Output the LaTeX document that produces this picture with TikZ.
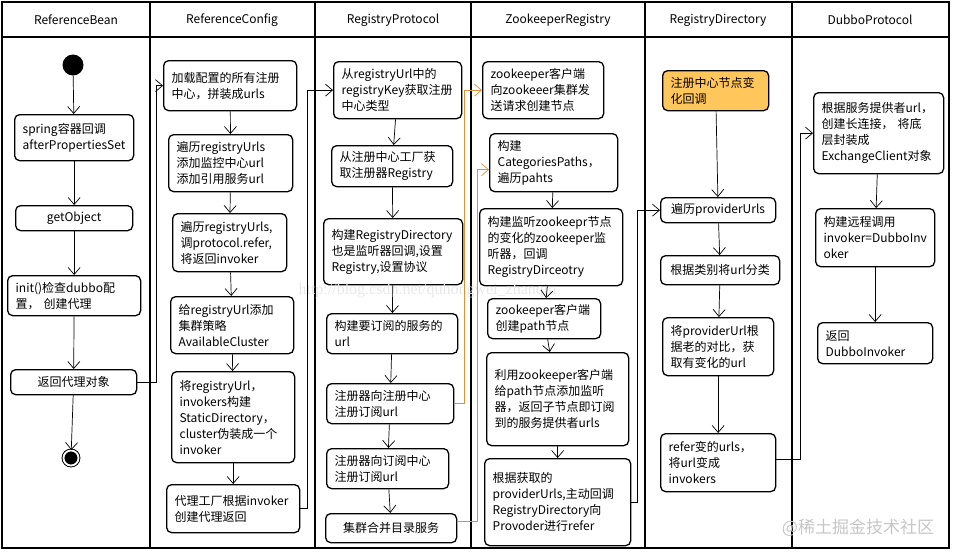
\documentclass[tikz,border=0pt]{standalone}
\usepackage{fontspec}
\setmainfont{Noto Sans CJK SC}
\newfontfamily\wmfont{Liberation Serif}
\usetikzlibrary{arrows.meta}

\definecolor{orangeline}{HTML}{D89438}
\definecolor{cbfill}{HTML}{FFC65C}

\begin{document}
\begin{tikzpicture}[
    x=1pt, y=-1pt,
    lane/.style={line width=1.6pt},
    title/.style={font=\fontsize{12}{14}\selectfont},
    act/.style={
        draw,
        rounded corners=5pt,
        line width=1.3pt,
        anchor=north west,
        inner xsep=8pt,
        inner ysep=0pt,
        align=left,
        font=\fontsize{12}{16}\selectfont
    },
    mid/.style={act, align=center},
    flow/.style={-{Straight Barb[length=7pt,width=12pt]}, line width=0.7pt},
    hot/.style={flow, draw=orangeline},
    initial/.style={circle, fill=black, minimum size=21pt, inner sep=0pt},
    final/.style={circle, fill=black, draw, double=white, double distance=1.8pt,
        line width=1pt, minimum size=15pt, inner sep=0pt}]

   \useasboundingbox (0,0) rectangle (956,555);

   % swimlanes
   \draw[lane] (2,2) rectangle (949,548);
   \draw[lane] (2,37) -- (949,37);
   \draw[lane] (150,2) -- (150,548);
   \draw[lane] (315,2) -- (315,548);
   \draw[lane] (471,2) -- (471,548);
   \draw[lane] (645,2) -- (645,548);
   \draw[lane] (792,2) -- (792,548);

   \node[title] (hbean)  at (76,20)  {ReferenceBean};
   \node[title] (hconf)  at (232,20) {ReferenceConfig};
   \node[title] (hproto) at (393,20) {RegistryProtocol};
   \node[title] (hzk)    at (558,20) {ZookeeperRegistry};
   \node[title] (hdir)   at (718,20) {RegistryDirectory};
   \node[title] (hdubbo) at (870,20) {DubboProtocol};

   % ReferenceBean
   \node[initial] (start) at (73,65) {};
   \node[act, text width=103pt, minimum height=46pt] (spring) at (14,114)
        {spring容器回调\\afterPropertiesSet};
   \node[mid, text width=101pt, minimum height=25pt] (getobj) at (15,205) {getObject};
   \node[act, text width=117pt, minimum height=40pt] (init) at (7,275)
        {init()检查dubbo配\\置， 创建代理};
   \node[mid, text width=110pt, minimum height=25pt] (ret) at (10,369) {返回代理对象};
   \node[final] (stop) at (71,458) {};

   % ReferenceConfig
   \node[act, text width=117pt, minimum height=50pt] (load) at (163,60)
        {加载配置的所有注册\\中心，拼装成urls};
   \node[act, text width=108pt, minimum height=57pt] (trav1) at (168,134)
        {遍历registryUrls\\添加监控中心url\\添加引用服务url};
   \node[act, text width=98pt, minimum height=58pt] (trav2) at (172,213)
        {遍历registryUrls,\\调protocol.refer,\\将返回invoker};
   \node[act, text width=107pt, minimum height=57pt] (add) at (170,296)
        {给registryUrl添加\\集群策略\\AvailableCluster};
   \node[act, text width=107pt, minimum height=91pt] (stat) at (171,371)
        {将registryUrl，\\invokers构建\\StaticDirectory，\\cluster伪装成一个\\invoker};
   \node[act, text width=117pt, minimum height=48pt] (proxy) at (166,484)
        {代理工厂根据invoker\\创建代理返回};

   % RegistryProtocol
   \node[act, text width=112pt, minimum height=57pt] (reg1) at (333,61)
        {从registryUrl中的\\registryKey获取注册\\中心类型};
   \node[act, text width=105pt, minimum height=41pt] (fac) at (331,145)
        {从注册中心工厂获\\取注册器Registry};
   \node[act, text width=123pt, minimum height=66pt] (rd) at (323,218)
        {构建RegistryDirectory\\也是监听器回调,设置\\Registry,设置协议};
   \node[act, text width=115pt, minimum height=40pt] (url) at (326,313)
        {构建要订阅的服务的\\url};
   \node[act, text width=111pt, minimum height=40pt] (regc) at (326,383)
        {注册器向注册中心\\注册订阅url};
   \node[act, text width=106pt, minimum height=40pt] (subc) at (326,448)
        {注册器向订阅中心\\注册订阅url};
   \node[mid, text width=115pt, minimum height=29pt] (merge) at (325,513)
        {集群合并目录服务};

   % ZookeeperRegistry
   \node[act, text width=105pt, minimum height=57pt] (zk1) at (482,61)
        {zookeeper客户端\\向zookeeer集群发\\送请求创建节点};
   \node[act, text width=112pt, minimum height=58pt] (cat) at (489,133)
        {构建\\CategoriesPaths，\\遍历pahts};
   \node[act, text width=127pt, minimum height=77pt] (listen) at (479,208)
        {构建监听zookeepr节点\\的变化的zookeeper监\\听器，回调\\RegistryDirceotry};
   \node[act, text width=97pt, minimum height=40pt] (create) at (487,298)
        {zookeeper客户端\\创建path节点};
   \node[act, text width=126pt, minimum height=93pt] (use) at (486,352)
        {利用zookeeper客户端\\给path节点添加监听\\器，返回子节点即订阅\\到的服务提供者urls};
   \node[act, text width=130pt, minimum height=87pt] (fetch) at (484,458)
        {根据获取的\\providerUrls,主动回调\\RegistryDirectory向\\Provoder进行refer};

   % RegistryDirectory
   \node[act, fill=cbfill, text width=90pt, minimum height=40pt] (cb) at (662,70)
        {注册中心节点变\\化回调};
   \node[mid, text width=99pt, minimum height=25pt] (trav) at (660,197) {遍历providerUrls};
   \node[mid, text width=103pt, minimum height=29pt] (cls) at (660,255) {根据类别将url分类};
   \node[act, text width=95pt, minimum height=58pt] (cmp) at (662,317)
        {将providerUrl根\\据老的对比，获\\取有变化的url};
   \node[act, text width=99pt, minimum height=58pt] (refer) at (660,433)
        {refer变的urls，\\将url变成\\invokers};

   % DubboProtocol
   \node[act, text width=114pt, minimum height=81pt] (conn) at (813,92)
        {根据服务提供者url，\\创建长连接， 将底\\层封装成\\ExchangeClient对象};
   \node[act, text width=103pt, minimum height=58pt] (remote) at (815,208)
        {构建远程调用\\invoker=DubboInv\\oker};
   \node[act, text width=99pt, minimum height=41pt] (ret2) at (817,322)
        {返回\\DubboInvoker};

   % watermarks
   \node[font=\wmfont\fontsize{16}{16}\selectfont, text=gray!18, anchor=west] (wm1) at (295,291)
        {http://blog.csdn.net/quhongwei\_zhanqiu};
   \node[font=\fontsize{17}{17}\selectfont, text=gray!45] (wm2) at (858,528)
        {@稀土掘金技术社区};

   % flows inside the lanes
   \draw[flow] (start) -- (spring);
   \draw[flow] (spring) -- (getobj);
   \draw[flow] (getobj) -- (init);
   \draw[flow] (init) -- (ret);
   \draw[flow] (ret) -- (stop);

   \draw[flow] (load) -- (trav1);
   \draw[flow] (trav1) -- (trav2);
   \draw[flow] (trav2) -- (add);
   \draw[flow] (add) -- (stat);
   \draw[flow] (stat) -- (proxy);

   \draw[flow] (reg1) -- (fac);
   \draw[flow] (fac) -- (rd);
   \draw[flow] (rd) -- (url);
   \draw[flow] (url) -- (regc);
   \draw[flow] (regc) -- (subc);
   \draw[flow] (subc) -- (merge);

   \draw[flow] (cat) -- (listen);
   \draw[flow] (listen) -- (create);
   \draw[flow] (create) -- (use);
   \draw[flow] (use) -- (fetch);

   \draw[flow] (cb) -- (trav);
   \draw[flow] (trav) -- (cls);
   \draw[flow] (cls) -- (cmp);
   \draw[flow] (cmp) -- (refer);

   \draw[flow] (conn) -- (remote);
   \draw[flow] (remote) -- (ret2);

   % flows between the lanes
   \draw[flow] (ret.east) -- ++(19pt,0) |- (load.west);
   \draw[flow] (proxy.east) -- ++(7pt,0) |- (reg1.west);
   \draw[hot] (regc.east) -- ++(10pt,0) |- (zk1.west);
   \draw[hot] ([yshift=7pt]merge.east) -- ++(20pt,0) |- ([yshift=-7pt]cat.west);
   \draw[flow] (fetch.east) -- ++(6pt,0) |- (trav.west);
   \draw[flow] ([yshift=3pt]refer.east) -- ++(24pt,0) |- (conn.west);
\end{tikzpicture}
\end{document}
